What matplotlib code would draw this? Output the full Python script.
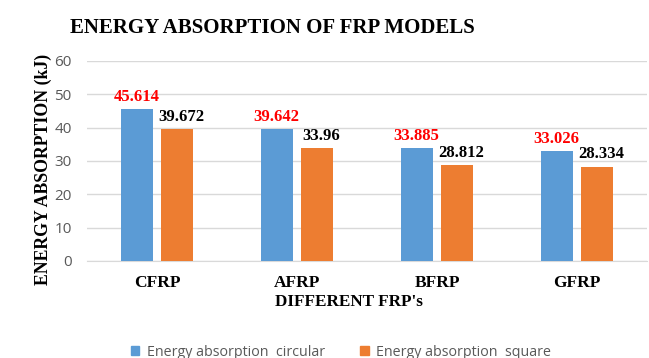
import numpy as np
import matplotlib.pyplot as plt
from matplotlib.patches import Patch

categories = ["CFRP", "AFRP", "BFRP", "GFRP"]
circular = [45.614, 39.642, 33.885, 33.026]
square = [39.672, 33.96, 28.812, 28.334]
circular_labels = ["45.614", "39.642", "33.885", "33.026"]
square_labels = ["39.672", "33.96", "28.812", "28.334"]

BLUE = "#5B9BD5"
ORANGE = "#ED7D31"
SERIF = "Liberation Serif"
SANS = "Open Sans"

W, H = 649, 358
fig = plt.figure(figsize=(W / 100, H / 100), dpi=100)
# plot area in pixel coordinates: left 87, right 647, top 61, bottom 261
ax = fig.add_axes([87 / W, 1 - 261 / H, 560 / W, 200 / H])

x = np.arange(len(categories))
bw = 0.23
off = 0.145
b1 = ax.bar(x - off, circular, bw, color=BLUE, zorder=3)
b2 = ax.bar(x + off, square, bw, color=ORANGE, zorder=3)

for rect, txt in zip(b1, circular_labels):
    ax.annotate(txt, (rect.get_x() + rect.get_width() / 2, rect.get_height()),
                xytext=(0, 3), textcoords="offset points", ha="center", va="bottom",
                color="#FF0000", fontsize=12, fontweight="bold", family=SERIF)
for rect, txt in zip(b2, square_labels):
    ax.annotate(txt, (rect.get_x() + rect.get_width() / 2 + 0.03, rect.get_height()),
                xytext=(0, 3), textcoords="offset points", ha="center", va="bottom",
                color="black", fontsize=12, fontweight="bold", family=SERIF)

ax.set_xlim(-0.5, len(categories) - 0.5)
ax.set_ylim(0, 60)
ax.set_yticks(range(0, 61, 10))
ax.yaxis.grid(True, color="#D9D9D9", linewidth=1, zorder=0)
for s in ["top", "right", "left"]:
    ax.spines[s].set_visible(False)
ax.spines["bottom"].set_color("#D9D9D9")
ax.tick_params(axis="both", length=0)
ax.tick_params(axis="y", labelsize=11, labelcolor="#595959", pad=11)
for lbl in ax.get_yticklabels():
    lbl.set_family(SANS)

ax.set_xticks(x)
ax.set_xticklabels(categories, fontsize=12.5, fontweight="bold", family=SERIF)
ax.tick_params(axis="x", pad=10)

fig.text(0.5 * (72 + 473) / W, 1 - 28 / H, "ENERGY ABSORPTION OF FRP MODELS",
         ha="center", va="center", fontsize=15, fontweight="bold", family=SERIF)
fig.text(43 / W, 1 - 169 / H, "ENERGY ABSORPTION (kJ)", rotation=90,
         ha="center", va="center", fontsize=12.8, fontweight="bold", family=SERIF)
fig.text(349 / W, 1 - 302 / H, "DIFFERENT FRP's", ha="center", va="center",
         fontsize=12.3, fontweight="bold", family=SERIF)

handles = [Patch(color=BLUE, label="Energy absorption  circular"),
           Patch(color=ORANGE, label="Energy absorption  square")]
leg = fig.legend(handles=handles, loc="center", bbox_to_anchor=(341 / W, 1 - 352 / H),
                 ncol=2, frameon=False, handlelength=0.6, handleheight=0.6,
                 handletextpad=0.5, columnspacing=2.5, labelcolor="#595959",
                 prop={"family": SANS, "size": 10.3})

fig.savefig("out.png", dpi=100)
